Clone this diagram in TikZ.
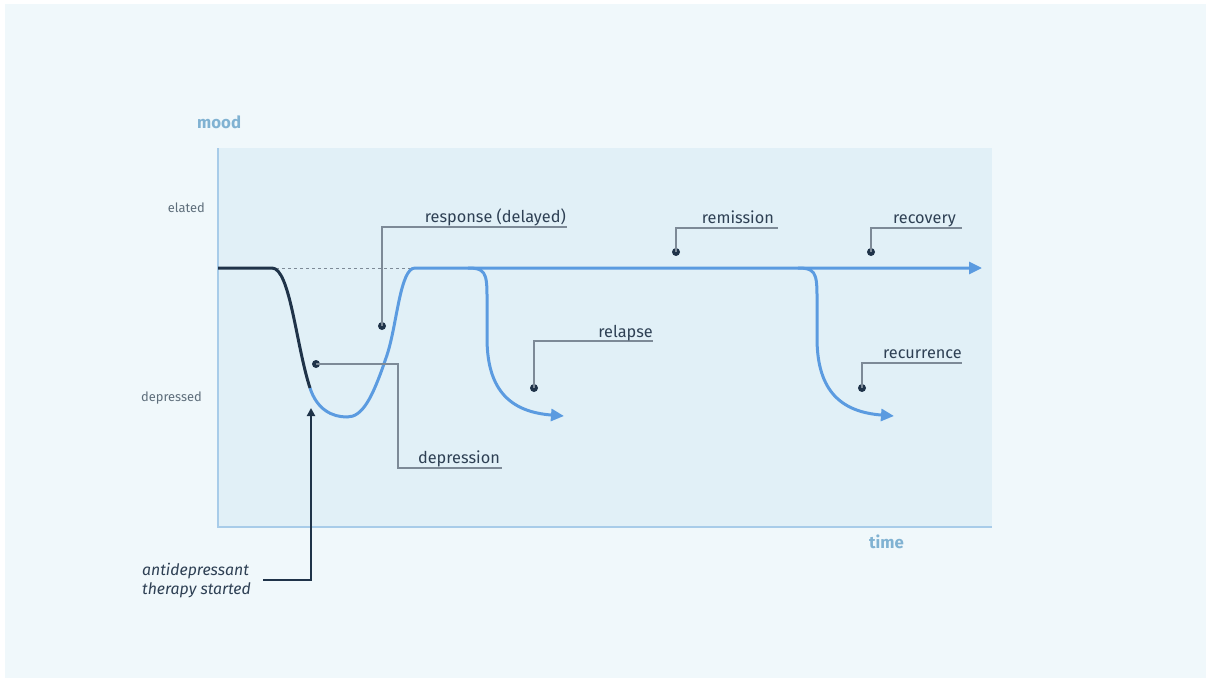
\documentclass[tikz,border=0pt]{standalone}
\usepackage{fontspec}
\setmainfont{Fira Sans}
\usetikzlibrary{arrows.meta}
\definecolor{outerbg}{HTML}{F0F8FB}
\definecolor{plotbg}{HTML}{E1F0F7}
\definecolor{axisc}{HTML}{A8CCE9}
\definecolor{curveblue}{HTML}{5B9BE0}
\definecolor{navy}{HTML}{1F3349}
\definecolor{annc}{HTML}{7D8A97}
\definecolor{labelc}{HTML}{2E4054}
\definecolor{axlab}{HTML}{80B2D2}
\definecolor{levc}{HTML}{5E6E7B}
\begin{document}
\begin{tikzpicture}[x=1pt,y=-1pt,
  lbl/.style={anchor=base east, inner sep=0pt, text=labelc, font=\fontsize{16.3}{19}\selectfont},
  lev/.style={anchor=base east, inner sep=0pt, text=levc, font=\fontsize{12.9}{15}\selectfont},
  axl/.style={anchor=base west, inner sep=0pt, text=axlab, font=\bfseries\fontsize{16.8}{19}\selectfont},
  dotn/.style={circle, fill=navy, inner sep=0pt, minimum size=8pt},
  ann/.style={draw=annc, line width=1.5pt},
  curve/.style={draw=curveblue, line width=3pt},
  bigtip/.style={-{Triangle[length=13pt,width=12pt]}},
]
\useasboundingbox (0,0) rectangle (1206,677);
\fill[white] (-5,-5) rectangle (1215,685);
\fill[outerbg] (5,4) rectangle (1215,685);
\fill[plotbg] (218,148) rectangle (992,527);
\draw[axisc, line width=2pt] (218,148) -- (218,527) -- (992,527);

% axis labels
\node[axl] (mood) at (197,128) {mood};
\node[axl] (time) at (869,548) {time};
\node[lev] (elated) at (205,212) {elated};
\node[lev] (depressed) at (202,401) {depressed};

% dashed reference
\draw[annc, line width=1pt, dash pattern=on 3pt off 3pt] (276,268) -- (412,268);

% curves
\coordinate (start) at (218,268);
\coordinate (mid) at (310,388);
\coordinate (top) at (415,268);
\coordinate (endmain) at (982,268);
\coordinate (relend) at (564,416);
\coordinate (recend) at (894,416);

\draw[curve, bigtip] (mid) .. controls (317,409.5) and (332,417) .. (347,417)
  .. controls (362,417) and (372,400) .. (387,355)
  .. controls (397,325) and (400,268) .. (top) -- (endmain);
\draw[curve, bigtip] (468,268) .. controls (484,268) and (487,272) .. (487,295)
  -- (487,338) .. controls (487,392) and (512,412) .. (relend);
\draw[curve, bigtip] (798,268) .. controls (814,268) and (817,272) .. (817,295)
  -- (817,338) .. controls (817,392) and (842,412) .. (recend);
\draw[navy, line width=3pt] (start) -- (272,268) .. controls (290,268) and (296,345) .. (mid);

% annotations
\node[dotn] (dresp) at (382,326) {};
\coordinate (cresp) at (567,227);
\draw[ann] (dresp.center) |- (cresp);
\node[lbl] (lresp) at (566,222) {response (delayed)};

\node[dotn] (ddep) at (316,364) {};
\coordinate (cdep1) at (398,364);
\coordinate (cdep2) at (502,468);
\draw[ann] (ddep.center) -- (cdep1) |- (cdep2);
\node[lbl] (ldep) at (500,463) {depression};

\node[dotn] (drem) at (676,252) {};
\coordinate (crem) at (778,228);
\draw[ann] (drem.center) |- (crem);
\node[lbl] (lrem) at (774,223) {remission};

\node[dotn] (drel) at (534,388) {};
\coordinate (crel) at (653,341);
\draw[ann] (drel.center) |- (crel);
\node[lbl] (lrel) at (653,337) {relapse};

\node[dotn] (drec) at (871,252) {};
\coordinate (crec) at (962,228);
\draw[ann] (drec.center) |- (crec);
\node[lbl] (lrec) at (956,223) {recovery};

\node[dotn] (drcr) at (862,388) {};
\coordinate (crcr) at (962,363);
\draw[ann] (drcr.center) |- (crcr);
\node[lbl] (lrcr) at (962,358) {recurrence};

% therapy started
\node[anchor=west, inner sep=0pt, align=left, text=labelc,
  font=\itshape\fontsize{15.8}{19}\selectfont] (ther) at (142,581) {antidepressant\\therapy started};
\coordinate (ctherA) at (263,580);
\coordinate (ctherB) at (311,408);
\draw[navy, line width=2pt, -{Triangle[length=8pt,width=8pt]}] (ctherA) -| (ctherB);
\end{tikzpicture}
\end{document}
